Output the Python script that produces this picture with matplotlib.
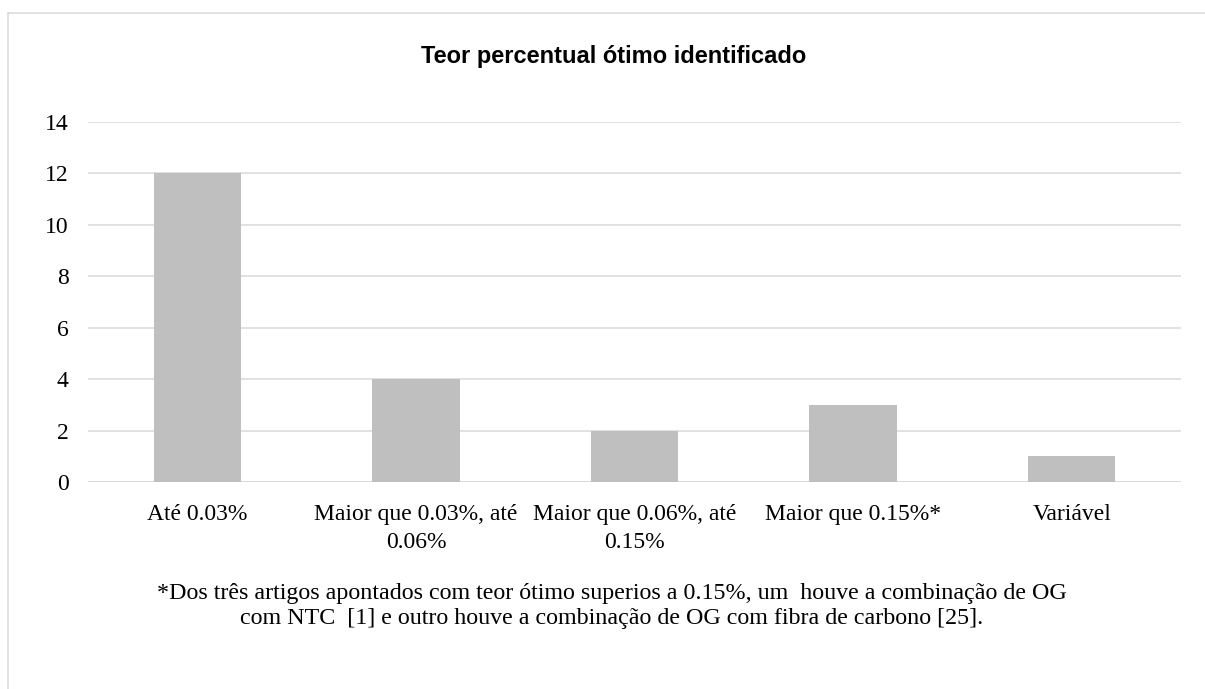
import matplotlib
matplotlib.use('Agg')
from matplotlib import pyplot as plt
from matplotlib.lines import Line2D

# data
categories = [
    'Até 0.03%',
    'Maior que 0.03%, até\n0.06%',
    'Maior que 0.06%, até\n0.15%',
    'Maior que 0.15%*',
    'Variável',
]
counts = [12, 4, 2, 3, 1]
y_ticks = [0, 2, 4, 6, 8, 10, 12, 14]
title = 'Teor percentual ótimo identificado'
footnote = ('*Dos três artigos apontados com teor ótimo superios a 0.15%, um  houve a combinação de OG\n'
            'com NTC  [1] e outro houve a combinação de OG com fibra de carbono [25].')

W, H = 1205, 689
fig = plt.figure(figsize=(W / 100, H / 100), dpi=100)
ax = fig.add_axes([88 / W, 1 - 482 / H, (1181 - 88) / W, (482 - 121.7) / H])

serif = ['Liberation Serif', 'DejaVu Serif']
sans = ['Liberation Sans', 'DejaVu Sans']

x = list(range(len(categories)))
ax.bar(x, counts, width=0.4, color='#BFBFBF', zorder=2)

ax.set_xlim(-0.5, len(categories) - 0.5)
ax.set_ylim(0, 14)
ax.set_yticks(y_ticks)
ax.set_xticks(x)
ax.set_xticklabels(categories, family=serif, fontsize=17, linespacing=1.4)
ax.set_yticklabels([str(v) for v in y_ticks], family=serif, fontsize=17)
ax.tick_params(axis='both', length=0, colors='#000000')
ax.tick_params(axis='x', pad=16)
ax.tick_params(axis='y', pad=14)

ax.grid(axis='y', color='#D9D9D9', linewidth=1.1, zorder=0)
ax.set_axisbelow(True)
for s in ax.spines.values():
    s.set_visible(False)
ax.axhline(0, color='#D9D9D9', linewidth=1.4, zorder=1)

# title
fig.text(614 / W, 1 - 57 / H, title, ha='center', va='center',
         family=sans, fontsize=17, fontweight='bold')

# footnote
fig.text(612 / W, 1 - 606 / H, footnote, ha='center', va='center',
         family=serif, fontsize=17.25, linespacing=1.3)

# chart border (top and left edges visible)
fig.add_artist(Line2D([8 / W, 1.0], [1 - 13 / H, 1 - 13 / H],
                      transform=fig.transFigure, color='#D9D9D9', lw=1.1))
fig.add_artist(Line2D([8 / W, 8 / W], [0.0, 1 - 13 / H],
                      transform=fig.transFigure, color='#D9D9D9', lw=1.1))

fig.savefig('out.png', dpi=100)
